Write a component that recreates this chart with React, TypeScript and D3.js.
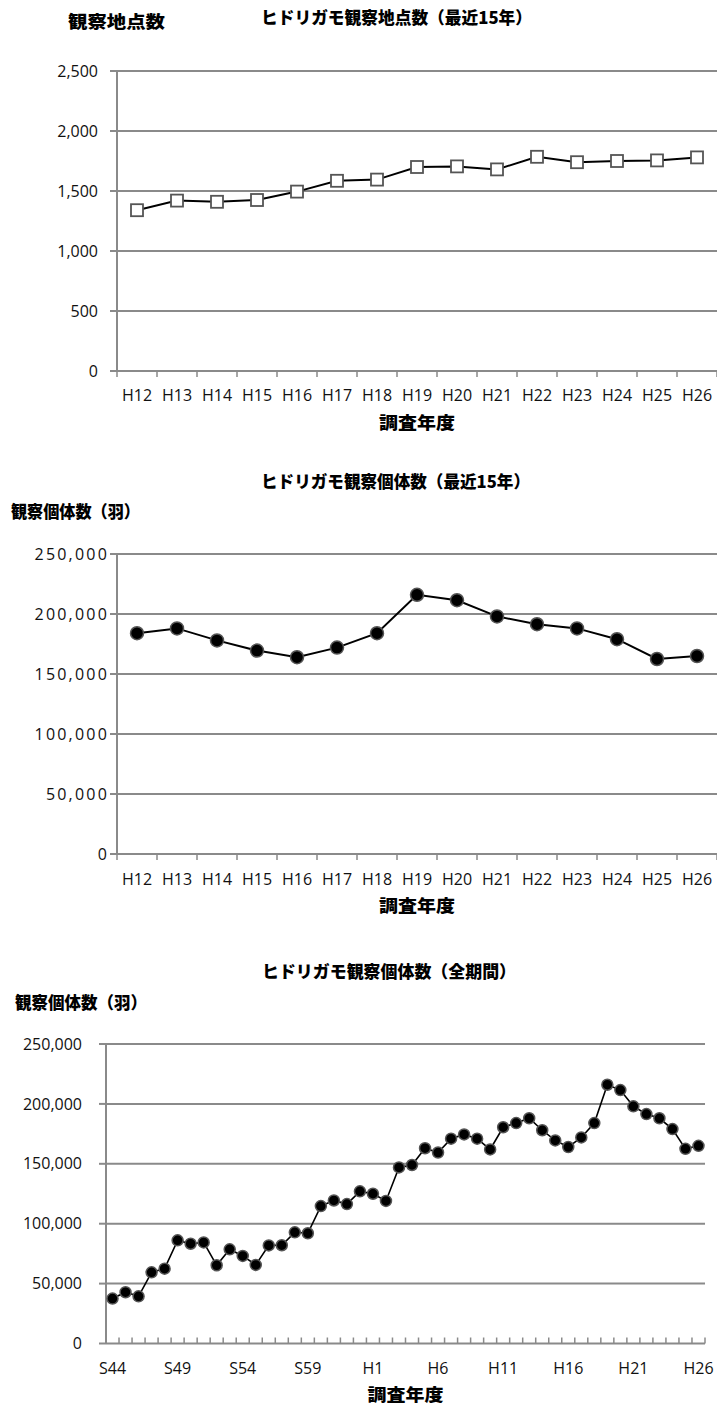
import React, {useEffect, useRef} from 'react';
import * as d3 from 'd3';

// Recent 15 years (Heisei 12 - 26)
const recentYears = [
  'H12', 'H13', 'H14', 'H15', 'H16', 'H17', 'H18', 'H19',
  'H20', 'H21', 'H22', 'H23', 'H24', 'H25', 'H26',
];
const siteCounts = [
  1340, 1420, 1410, 1425, 1495, 1585, 1595, 1700, 1705, 1680, 1785, 1740,
  1750, 1755, 1780,
];
const recentBirdCounts = [
  184000, 188000, 178000, 169500, 164000, 172000, 184000, 216000, 211500,
  198000, 191500, 188000, 179000, 162500, 165000,
];

// Whole period (Showa 44 - Heisei 26)
const allYears = [
  'S44', 'S45', 'S46', 'S47', 'S48', 'S49', 'S50', 'S51', 'S52', 'S53',
  'S54', 'S55', 'S56', 'S57', 'S58', 'S59', 'S60', 'S61', 'S62', 'S63',
  'H1', 'H2', 'H3', 'H4', 'H5', 'H6', 'H7', 'H8', 'H9', 'H10', 'H11',
  'H12', 'H13', 'H14', 'H15', 'H16', 'H17', 'H18', 'H19', 'H20', 'H21',
  'H22', 'H23', 'H24', 'H25', 'H26',
];
const allBirdCounts = [
  37500, 42800, 39400, 59400, 62500, 86100, 83300, 84400, 65300, 78600,
  73100, 65600, 81900, 82000, 92800, 92000, 114700, 119400, 116400, 127000,
  125000, 119000, 147000, 149000, 163000, 159400, 171000, 174500, 171000,
  162000, 180500, 184000, 188000, 178000, 169500, 164000, 172000, 184000,
  216000, 211500, 198000, 191500, 188000, 179000, 162500, 165000,
];
const allYearLabels = ['S44', 'S49', 'S54', 'S59', 'H1', 'H6', 'H11', 'H16', 'H21', 'H26'];

const siteTicks = [0, 500, 1000, 1500, 2000, 2500];
const birdTicks = [0, 50000, 100000, 150000, 200000, 250000];

const JP = '"Noto Sans CJK JP", sans-serif';
const LATIN = '"Open Sans", sans-serif';
const GRID = '#8a8a8a';

interface ChartSpec {
  categories: string[];
  values: number[];
  labels: string[];
  ticks: number[];
  left: number;
  right: number;
  top: number;
  bottom: number;
  marker: 'square' | 'circle';
  markerSize: number;
  lineWidth: number;
  tickInside: boolean;
  yLabelRight: number;
  yLabelSpacing: number;
  title: string;
  titleX: [number, number];
  titleY: number;
  yTitle: string;
  yTitleX: [number, number];
  yTitleY: number;
  xTitleY: number;
  xLabelY: number;
}

const drawChart = (
  root: d3.Selection<SVGSVGElement, unknown, null, undefined>,
  c: ChartSpec,
) => {
  const g = root.append('g');
  const x = d3.scaleBand<string>().domain(c.categories).range([c.left, c.right]);
  const y = d3
    .scaleLinear()
    .domain([0, c.ticks[c.ticks.length - 1]])
    .range([c.bottom, c.top]);

  // Grid lines
  g.selectAll('line.grid')
    .data(c.ticks)
    .join('line')
    .attr('x1', c.left)
    .attr('x2', c.right)
    .attr('y1', (d) => y(d))
    .attr('y2', (d) => y(d))
    .attr('stroke', GRID)
    .attr('stroke-width', 2);

  // Y axis line and ticks
  g.append('line')
    .attr('x1', c.left)
    .attr('x2', c.left)
    .attr('y1', c.top)
    .attr('y2', c.bottom)
    .attr('stroke', GRID)
    .attr('stroke-width', 2);

  g.selectAll('line.ytick')
    .data(c.ticks)
    .join('line')
    .attr('x1', c.left - 7)
    .attr('x2', c.left)
    .attr('y1', (d) => y(d))
    .attr('y2', (d) => y(d))
    .attr('stroke', GRID)
    .attr('stroke-width', 2);

  g.selectAll('text.ylab')
    .data(c.ticks)
    .join('text')
    .attr('x', c.yLabelRight)
    .attr('y', (d) => y(d))
    .attr('dy', '0.35em')
    .attr('text-anchor', 'end')
    .attr('font-family', LATIN)
    .attr('font-size', 16)
    .attr('letter-spacing', c.yLabelSpacing)
    .attr('fill', '#111')
    .text((d) => d3.format(',')(d));

  // X ticks at band boundaries
  const bounds = c.categories.map((d) => x(d) as number).concat([c.right]);
  g.selectAll('line.xtick')
    .data(bounds)
    .join('line')
    .attr('x1', (d) => d)
    .attr('x2', (d) => d)
    .attr('y1', c.bottom)
    .attr('y2', c.tickInside ? c.bottom - 6 : c.bottom + 6)
    .attr('stroke', GRID)
    .attr('stroke-width', 1.5);

  g.selectAll('text.xlab')
    .data(c.labels)
    .join('text')
    .attr('x', (d) => (x(d) as number) + x.bandwidth() / 2)
    .attr('y', c.xLabelY)
    .attr('dy', '0.35em')
    .attr('text-anchor', 'middle')
    .attr('font-family', LATIN)
    .attr('font-size', 16)
    .attr('fill', '#111')
    .text((d) => d);

  // Series
  const pts: [number, number][] = c.values.map((v, i) => [
    (x(c.categories[i]) as number) + x.bandwidth() / 2,
    y(v),
  ]);

  g.append('path')
    .datum(pts)
    .attr('fill', 'none')
    .attr('stroke', '#000')
    .attr('stroke-width', c.lineWidth)
    .attr('d', d3.line());

  if (c.marker === 'square') {
    g.selectAll('rect.mk')
      .data(pts)
      .join('rect')
      .attr('x', (d) => d[0] - c.markerSize / 2)
      .attr('y', (d) => d[1] - c.markerSize / 2)
      .attr('width', c.markerSize)
      .attr('height', c.markerSize)
      .attr('fill', '#fff')
      .attr('stroke', '#555')
      .attr('stroke-width', 1.8);
  } else {
    g.selectAll('circle.mk')
      .data(pts)
      .join('circle')
      .attr('cx', (d) => d[0])
      .attr('cy', (d) => d[1])
      .attr('r', c.markerSize)
      .attr('fill', '#000')
      .attr('stroke', '#555')
      .attr('stroke-width', 1.5);
  }

  // Titles
  const jpText = (t: string, [x0, x1]: [number, number], ty: number) =>
    g.append('text')
      .attr('x', x0)
      .attr('y', ty)
      .attr('dy', '0.35em')
      .attr('font-family', JP)
      .attr('font-weight', 900)
      .attr('font-size', 17)
      .attr('textLength', x1 - x0)
      .attr('lengthAdjust', 'spacingAndGlyphs')
      .attr('fill', '#000')
      .text(t);

  jpText(c.title, c.titleX, c.titleY);
  jpText(c.yTitle, c.yTitleX, c.yTitleY);
  const mid = (c.left + c.right) / 2;
  jpText('調査年度', [mid - 38, mid + 38], c.xTitleY);
};

const App: React.FC = () => {
  const svgRef = useRef<SVGSVGElement>(null);

  useEffect(() => {
    if (!svgRef.current) return;
    const svg = d3.select(svgRef.current);
    svg.selectAll('*').remove();

    drawChart(svg, {
      categories: recentYears,
      values: siteCounts,
      labels: recentYears,
      ticks: siteTicks,
      left: 117,
      right: 717,
      top: 71,
      bottom: 371,
      marker: 'square',
      markerSize: 12,
      lineWidth: 2,
      tickInside: false,
      yLabelRight: 98,
      yLabelSpacing: 0,
      title: 'ヒドリガモ観察地点数（最近15年）',
      titleX: [261, 532],
      titleY: 18,
      yTitle: '観察地点数',
      yTitleX: [68, 165],
      yTitleY: 22,
      xTitleY: 423,
      xLabelY: 395,
    });

    drawChart(svg, {
      categories: recentYears,
      values: recentBirdCounts,
      labels: recentYears,
      ticks: birdTicks,
      left: 117,
      right: 717,
      top: 554,
      bottom: 854,
      marker: 'circle',
      markerSize: 6.5,
      lineWidth: 2,
      tickInside: false,
      yLabelRight: 109,
      yLabelSpacing: 2.2,
      title: 'ヒドリガモ観察個体数（最近15年）',
      titleX: [261, 530],
      titleY: 482,
      yTitle: '観察個体数（羽）',
      yTitleX: [11, 140],
      yTitleY: 512,
      xTitleY: 906,
      xLabelY: 879,
    });

    drawChart(svg, {
      categories: allYears,
      values: allBirdCounts,
      labels: allYearLabels,
      ticks: birdTicks,
      left: 106,
      right: 705,
      top: 1044,
      bottom: 1343.5,
      marker: 'circle',
      markerSize: 5.5,
      lineWidth: 1.6,
      tickInside: true,
      yLabelRight: 82,
      yLabelSpacing: 0,
      title: 'ヒドリガモ観察個体数（全期間）',
      titleX: [262, 516],
      titleY: 972,
      yTitle: '観察個体数（羽）',
      yTitleX: [15, 147],
      yTitleY: 1003,
      xTitleY: 1395,
      xLabelY: 1368,
    });
  }, []);

  return (
    <svg
      ref={svgRef}
      width={717}
      height={1408}
      style={{position: 'absolute', left: 0, top: 0, background: '#fff'}}
    />
  );
};

export default App;
